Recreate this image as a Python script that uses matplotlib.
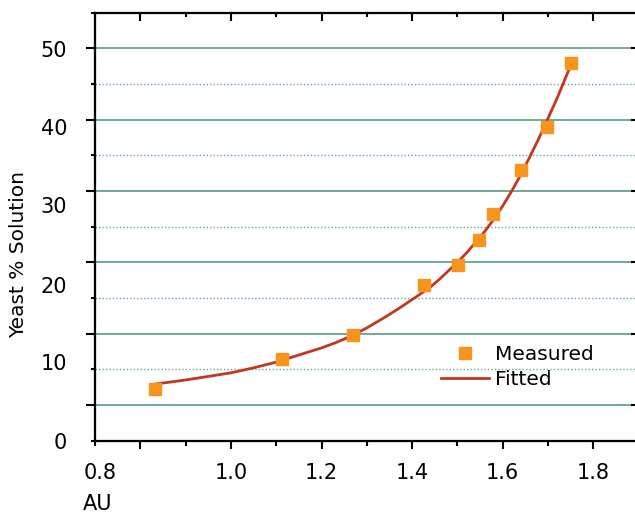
import matplotlib
matplotlib.use("Agg")
import matplotlib.pyplot as plt
from matplotlib.transforms import blended_transform_factory as blend

plt.rcParams['font.family'] = ['DejaVu Sans']

# ---- data ----
measured_au = [0.832, 1.113, 1.269, 1.426, 1.501, 1.548, 1.579, 1.640, 1.697, 1.751]
measured_yeast = [2.2, 6.5, 9.8, 16.8, 19.6, 23.1, 26.8, 33.0, 39.0, 48.0]

fitted_au = [0.83, 0.90, 1.00, 1.05, 1.10, 1.15, 1.20, 1.23, 1.26, 1.30, 1.34,
             1.37, 1.41, 1.44, 1.46, 1.48, 1.50, 1.52, 1.54, 1.56, 1.58, 1.60,
             1.62, 1.64, 1.66, 1.68, 1.70, 1.72, 1.735, 1.75]
fitted_yeast = [2.9, 3.5, 4.5, 5.2, 6.0, 7.0, 8.0, 8.7, 9.5, 10.8, 12.3,
                13.5, 15.2, 16.5, 17.6, 18.8, 20.0, 21.3, 22.8, 24.3, 26.0, 27.9,
                30.0, 32.3, 34.8, 37.4, 40.2, 43.0, 45.3, 47.6]

x_tick_labels = ["0.8", "1.0", "1.2", "1.4", "1.6", "1.8"]
x_label_pos = [0.711, 1.0, 1.2, 1.4, 1.6, 1.8]
y_tick_labels = ["0", "10", "20", "30", "40", "50"]
y_label_pos = [-5.3, 5.7, 16.6, 27.7, 38.7, 49.6]

x_major = [0.8, 1.0, 1.2, 1.4, 1.6, 1.8]
x_minor = [0.7, 0.9, 1.1, 1.3, 1.5, 1.7, 1.9]
y_major = [0, 10, 20, 30, 40, 50]
y_minor = [-5, 5, 15, 25, 35, 45, 55]

W, H = 635, 514
fig = plt.figure(figsize=(W / 100, H / 100), dpi=100)
ax = fig.add_axes([95 / W, 1 - 440.6 / H, 543.6 / W, 427.9 / H])
ax.set_xlim(0.7, 1.9)
ax.set_ylim(-5, 55)

# grid
for v in y_major:
    ax.axhline(v, color='#64a38c', lw=1.3, zorder=1)
for v in y_minor[1:-1]:
    ax.axhline(v, color='#6aa898', lw=1.0, ls=(0, (1, 1.5)), zorder=1)

ax.plot(fitted_au, fitted_yeast, color='#c3361f', lw=2.0, zorder=3, label='Fitted',
        solid_joinstyle='round')
ax.plot(measured_au, measured_yeast, ls='none', marker='s', ms=8,
        color='#f7941d', mec='#f7941d', zorder=4, label='Measured')

for s in ['top', 'right', 'left', 'bottom']:
    ax.spines[s].set_linewidth(1.5)
    ax.spines[s].set_color('black')

ax.set_xticks(x_major)
ax.set_xticks(x_minor, minor=True)
ax.set_yticks(y_major)
ax.set_yticks(y_minor, minor=True)
ax.set_xticklabels([])
ax.set_yticklabels([])
ax.tick_params(axis='x', which='major', direction='out', length=6, width=1.5)
ax.tick_params(axis='x', which='minor', direction='out', length=3.5, width=1.5)
ax.tick_params(axis='y', which='major', direction='out', length=6.5, width=1.5)
ax.tick_params(axis='y', which='minor', direction='out', length=3.2, width=1.5)

# top and right inward ticks
axt = ax.twiny()
axt.set_xlim(ax.get_xlim())
axt.set_xticks(x_major)
axt.set_xticks(x_minor, minor=True)
axt.set_xticklabels([])
axt.tick_params(axis='x', which='major', direction='in', length=5.5, width=1.5)
axt.tick_params(axis='x', which='minor', direction='in', length=2.7, width=1.5)
axr = ax.twinx()
axr.set_ylim(ax.get_ylim())
axr.set_yticks(y_major)
axr.set_yticks(y_minor, minor=True)
axr.set_yticklabels([])
axr.tick_params(axis='y', which='major', direction='in', length=6, width=1.5)
axr.tick_params(axis='y', which='minor', direction='in', length=2.7, width=1.5)
for a in (axt, axr):
    for s in a.spines.values():
        s.set_linewidth(1.5)

fs = 15
tx = blend(ax.transData, fig.transFigure)
for lab, p in zip(x_tick_labels, x_label_pos):
    fig.text(p, 1 - 473 / H, lab, transform=tx, ha='center', va='center', fontsize=fs)
ty = blend(fig.transFigure, ax.transData)
for lab, p in zip(y_tick_labels, y_label_pos):
    fig.text(67 / W, p, lab, transform=ty, ha='right', va='center', fontsize=fs)

fig.text(83 / W, 1 - 504 / H, "AU", ha='left', va='center', fontsize=fs)
fig.text(19 / W, 1 - 255 / H, "Yeast % Solution", rotation=90, ha='center',
         va='center', fontsize=fs - 0.5)

h, l = ax.get_legend_handles_labels()
leg = ax.legend([h[1], h[0]], [l[1], l[0]], loc='upper left',
                bbox_to_anchor=(441 / W, 1 - 345 / H), bbox_transform=fig.transFigure,
                frameon=False, fontsize=fs - 0.5, borderpad=0, borderaxespad=0,
                handlelength=2.4, handletextpad=0.3, labelspacing=0.3)

fig.savefig("out.png", dpi=100)
